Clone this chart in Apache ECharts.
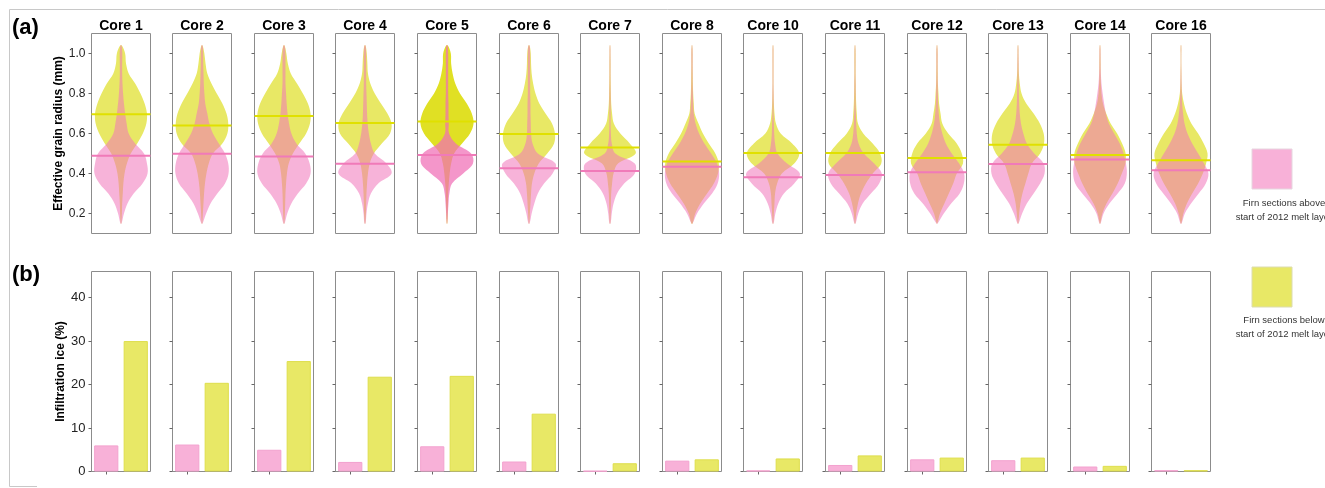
<!DOCTYPE html>
<html><head><meta charset="utf-8">
<script src="https://cdn.jsdelivr.net/npm/echarts@6/dist/echarts.min.js"></script>
<style>html,body{margin:0;padding:0;background:#fff}#c{width:1325px;height:488px}</style>
</head><body><div id="c"></div>
<script>
// ---------------- DATA ----------------
const cores = ['Core 1','Core 2','Core 3','Core 4','Core 5','Core 6','Core 7','Core 8','Core 10','Core 11','Core 12','Core 13','Core 14','Core 16'];
// radius levels (mm) at which violin half-widths were read (bottom -> top)
const radiusLevels = [0.15,0.2,0.25,0.3,0.35,0.4,0.45,0.5,0.55,0.6,0.65,0.7,0.75,0.8,0.85,0.9,0.95,1.0,1.04];
// half-widths (fraction of panel half width): firn sections ABOVE start of 2012 melt layer (pink)
const aboveViolin = [
  [0.02,0.1,0.22,0.43,0.73,0.9,0.88,0.78,0.48,0.26,0.19,0.14,0.1,0.07,0.05,0.04,0.04,0.045,0.02],
  [0.02,0.14,0.29,0.52,0.78,0.9,0.89,0.78,0.57,0.37,0.25,0.18,0.11,0.08,0.06,0.05,0.04,0.04,0.02],
  [0.02,0.11,0.25,0.47,0.75,0.9,0.87,0.72,0.42,0.25,0.17,0.12,0.09,0.07,0.05,0.05,0.05,0.05,0.02],
  [0.02,0.05,0.1,0.2,0.45,0.9,0.73,0.33,0.2,0.13,0.09,0.07,0.06,0.05,0.04,0.04,0.04,0.04,0.02],
  [0.01,0.03,0.05,0.08,0.17,0.55,0.88,0.82,0.3,0.07,0.06,0.05,0.05,0.04,0.04,0.04,0.04,0.04,0.02],
  [0.02,0.09,0.18,0.3,0.51,0.8,0.9,0.3,0.12,0.07,0.06,0.05,0.05,0.04,0.04,0.04,0.04,0.04,0.02],
  [0.02,0.06,0.12,0.24,0.48,0.84,0.84,0.18,0.06,0.03,0.02,0.02,0.02,0.02,0.015,0.015,0.015,0.015,0.01],
  [0.02,0.17,0.4,0.68,0.87,0.92,0.85,0.65,0.42,0.24,0.12,0.06,0.04,0.03,0.02,0.02,0.02,0.02,0.01],
  [0.02,0.08,0.18,0.37,0.72,0.91,0.48,0.15,0.07,0.04,0.03,0.02,0.02,0.02,0.015,0.015,0.015,0.015,0.01],
  [0.02,0.11,0.26,0.54,0.82,0.91,0.65,0.3,0.12,0.06,0.04,0.03,0.02,0.02,0.02,0.015,0.015,0.015,0.01],
  [0.02,0.23,0.48,0.77,0.91,0.92,0.75,0.5,0.3,0.18,0.1,0.06,0.04,0.03,0.025,0.02,0.02,0.02,0.01],
  [0.02,0.14,0.3,0.53,0.75,0.9,0.87,0.55,0.3,0.18,0.1,0.06,0.04,0.03,0.025,0.02,0.02,0.015,0.01],
  [0.02,0.12,0.32,0.6,0.84,0.91,0.88,0.8,0.67,0.48,0.3,0.2,0.14,0.09,0.05,0.03,0.02,0.02,0.01],
  [0.02,0.13,0.34,0.6,0.84,0.93,0.78,0.58,0.38,0.22,0.12,0.07,0.04,0.025,0.02,0.015,0.01,0.01,0.01]
];
// half-widths: firn sections BELOW start of 2012 melt layer (yellow)
const belowViolin = [
  [0.01,0.03,0.04,0.06,0.08,0.12,0.2,0.33,0.55,0.74,0.86,0.88,0.8,0.66,0.48,0.26,0.17,0.14,0.03],
  [0.01,0.03,0.05,0.07,0.1,0.15,0.23,0.37,0.69,0.86,0.89,0.83,0.69,0.5,0.32,0.18,0.12,0.08,0.02],
  [0.01,0.03,0.04,0.05,0.07,0.1,0.16,0.3,0.52,0.75,0.88,0.9,0.81,0.64,0.44,0.23,0.13,0.08,0.02],
  [0.01,0.03,0.04,0.05,0.07,0.1,0.16,0.3,0.57,0.85,0.9,0.76,0.54,0.33,0.18,0.1,0.08,0.06,0.02],
  [0.01,0.02,0.03,0.04,0.06,0.09,0.14,0.24,0.51,0.78,0.9,0.84,0.67,0.44,0.28,0.19,0.14,0.13,0.03],
  [0.01,0.03,0.05,0.07,0.1,0.18,0.33,0.62,0.85,0.88,0.78,0.56,0.35,0.22,0.14,0.09,0.07,0.06,0.02],
  [0.01,0.02,0.03,0.04,0.07,0.12,0.27,0.87,0.67,0.35,0.13,0.07,0.04,0.03,0.025,0.02,0.02,0.015,0.01],
  [0.02,0.11,0.28,0.51,0.74,0.88,0.91,0.79,0.57,0.37,0.22,0.09,0.06,0.04,0.03,0.025,0.02,0.02,0.01],
  [0.01,0.03,0.05,0.07,0.14,0.3,0.72,0.89,0.65,0.26,0.1,0.05,0.03,0.02,0.015,0.015,0.015,0.015,0.01],
  [0.01,0.04,0.1,0.2,0.37,0.6,0.89,0.85,0.6,0.28,0.1,0.06,0.04,0.03,0.025,0.02,0.02,0.02,0.01],
  [0.01,0.1,0.25,0.4,0.55,0.67,0.88,0.84,0.67,0.38,0.18,0.12,0.07,0.05,0.03,0.025,0.02,0.02,0.01],
  [0.01,0.04,0.08,0.15,0.25,0.35,0.47,0.75,0.88,0.87,0.74,0.53,0.28,0.12,0.06,0.03,0.02,0.015,0.01],
  [0.01,0.08,0.22,0.42,0.6,0.74,0.86,0.87,0.75,0.58,0.36,0.21,0.1,0.05,0.03,0.02,0.02,0.015,0.01],
  [0.01,0.08,0.2,0.38,0.58,0.74,0.85,0.9,0.77,0.58,0.35,0.2,0.1,0.04,0.02,0.015,0.01,0.01,0.01]
];
const aboveMedian = [0.489,0.499,0.485,0.449,0.492,0.426,0.412,0.434,0.381,0.392,0.406,0.447,0.470,0.416];
const belowMedian = [0.696,0.640,0.688,0.653,0.660,0.597,0.530,0.460,0.502,0.502,0.477,0.544,0.492,0.466];
// infiltration ice (%)
const aboveIce = [6.0,6.2,5.0,2.2,5.8,2.3,0.15,2.5,0.25,1.5,2.8,2.6,1.15,0.3];
const belowIce = [30.0,20.4,25.4,21.8,22.0,13.3,1.9,2.8,3.0,3.7,3.2,3.2,1.3,0.3];
const radiusTicks = [0.2,0.4,0.6,0.8,1.0];
const iceTicks = [0,10,20,30,40];
const groupLabels = ['above','below'];
const legendLabels = ['Firn sections above\nstart of 2012 melt layer','Firn sections below\nstart of 2012 melt layer'];

// ---------------- STYLE / LAYOUT ----------------
const FONT = 'Arial, "Liberation Sans", sans-serif';
const X0 = 90.5, STEP = 81.6, PW = 59;
const TOP_Y = 33, TOP_H = 200, BOT_Y = 271, BOT_H = 200;
const BOX = '#8c8c8c';
const YEL = '#e8e865', YEL_STRONG = '#e0e024';
const PINK = 'rgba(240,117,186,0.55)', PINK_STRONG = 'rgba(240,110,182,0.72)';
const YEL_LINE = '#e0e000', PINK_LINE = '#f07ab9';
const PINK_BAR = '#f8b1d8', PINK_BAR_B = '#f3a2cf';
const YEL_BAR = '#e8e866', YEL_BAR_B = '#dede4c';
const strongCores = ['Core 5'];

const grids = [], xAxes = [], yAxes = [], series = [], graphics = [];
const n = cores.length;
const left = i => Math.round(X0 + STEP * i) + 0.5;

for (let i = 0; i < n; i++) {
  grids.push({left: left(i), top: TOP_Y + 0.5, width: PW, height: TOP_H, show: true,
    borderColor: BOX, borderWidth: 1, backgroundColor: 'transparent'});
}
for (let i = 0; i < n; i++) {
  grids.push({left: left(i), top: BOT_Y + 0.5, width: PW, height: BOT_H, show: true,
    borderColor: BOX, borderWidth: 1, backgroundColor: 'transparent'});
}

for (let i = 0; i < n; i++) {
  xAxes.push({gridIndex: i, type: 'value', min: -1, max: 1, show: false});
  yAxes.push({gridIndex: i, type: 'value', min: 0.1, max: 1.1, position: 'left',
    axisLine: {show: false, onZero: false}, splitLine: {show: false},
    axisTick: {show: true, inside: false, length: 3, customValues: radiusTicks, lineStyle: {color: '#666'}},
    axisLabel: {show: i === 0, customValues: radiusTicks, formatter: v => v.toFixed(1),
      fontSize: 12, color: '#222', margin: 6, fontFamily: FONT},
    name: i === 0 ? 'Effective grain radius (mm)' : '', nameLocation: 'middle', nameGap: 26,
    nameTextStyle: {fontWeight: 'bold', fontSize: 12, color: '#000', fontFamily: FONT}});
}
for (let i = 0; i < n; i++) {
  xAxes.push({gridIndex: n + i, type: 'category', data: groupLabels,
    axisLine: {show: false, onZero: false}, axisLabel: {show: false},
    axisTick: {show: true, alignWithLabel: true, inside: false, length: 3, lineStyle: {color: '#666'}}});
  yAxes.push({gridIndex: n + i, type: 'value', min: 0, max: 46, position: 'left',
    axisLine: {show: false, onZero: false}, splitLine: {show: false},
    axisTick: {show: true, inside: false, length: 3, customValues: iceTicks, lineStyle: {color: '#666'}},
    axisLabel: {show: i === 0, customValues: iceTicks, fontSize: 13, color: '#222', margin: 6, fontFamily: FONT},
    name: i === 0 ? 'Infiltration ice (%)' : '', nameLocation: 'middle', nameGap: 24,
    nameTextStyle: {fontWeight: 'bold', fontSize: 12, color: '#000', fontFamily: FONT}});
}

for (let i = 0; i < n; i++) {
  const strong = strongCores.includes(cores[i]);
  series.push({
    type: 'custom', xAxisIndex: i, yAxisIndex: i, clip: false,
    data: [[0], [1], [2], [3]],
    renderItem: (params, api) => {
      const k = params.dataIndex;
      if (k < 2) {
        const w = k === 0 ? belowViolin[i] : aboveViolin[i];
        const pts = [];
        for (let j = 0; j < radiusLevels.length; j++) pts.push(api.coord([w[j], radiusLevels[j]]));
        for (let j = radiusLevels.length - 1; j >= 0; j--) pts.push(api.coord([-w[j], radiusLevels[j]]));
        const fill = k === 0 ? (strong ? YEL_STRONG : YEL) : (strong ? PINK_STRONG : PINK);
        return {type: 'polygon', shape: {points: pts, smooth: 0.35}, style: {fill: fill}};
      }
      const m = k === 2 ? belowMedian[i] : aboveMedian[i];
      const a = api.coord([-1, m]), b = api.coord([1, m]);
      return {type: 'line', shape: {x1: a[0], y1: a[1], x2: b[0], y2: b[1]},
        style: {stroke: k === 2 ? YEL_LINE : PINK_LINE, lineWidth: 2}};
    }
  });
  series.push({
    type: 'bar', xAxisIndex: n + i, yAxisIndex: n + i, barWidth: '82%',
    data: [
      {value: aboveIce[i], itemStyle: {color: PINK_BAR, borderColor: PINK_BAR_B, borderWidth: 1}},
      {value: belowIce[i], itemStyle: {color: YEL_BAR, borderColor: YEL_BAR_B, borderWidth: 1}}
    ]
  });
  graphics.push({type: 'text', x: left(i) + PW / 2, y: 26,
    style: {text: cores[i], font: 'bold 14px ' + FONT, fill: '#000', textAlign: 'center', textVerticalAlign: 'middle'}});
}

// panel letters
graphics.push({type: 'text', x: 12, y: 28, style: {text: '(a)', font: 'bold 22px ' + FONT, fill: '#000', textVerticalAlign: 'middle'}});
graphics.push({type: 'text', x: 12, y: 275, style: {text: '(b)', font: 'bold 22px ' + FONT, fill: '#000', textVerticalAlign: 'middle'}});
// outer frame (top, left, short bottom stub)
graphics.push({type: 'polyline', shape: {points: [[1325, 9.5], [9.5, 9.5], [9.5, 486.5], [37, 486.5]]}, style: {fill: 'none', stroke: '#c8c8c8', lineWidth: 1}, z: -1});
// legend
graphics.push({type: 'rect', shape: {x: 1252, y: 149, width: 40, height: 40}, style: {fill: PINK_BAR, stroke: '#e6d6df', lineWidth: 1}});
graphics.push({type: 'text', x: 1284, y: 210, style: {text: legendLabels[0], font: '9.5px ' + FONT, fill: '#333', textAlign: 'center', textVerticalAlign: 'middle', lineHeight: 14}});
graphics.push({type: 'rect', shape: {x: 1252, y: 267, width: 40, height: 40}, style: {fill: YEL_BAR, stroke: '#dcdcb0', lineWidth: 1}});
graphics.push({type: 'text', x: 1284, y: 327, style: {text: legendLabels[1], font: '9.5px ' + FONT, fill: '#333', textAlign: 'center', textVerticalAlign: 'middle', lineHeight: 14}});

const chart = echarts.init(document.getElementById('c'), null, {renderer: 'canvas'});
chart.setOption({
  animation: false,
  grid: grids, xAxis: xAxes, yAxis: yAxes, series: series, graphic: graphics
});
</script>
</body></html>
